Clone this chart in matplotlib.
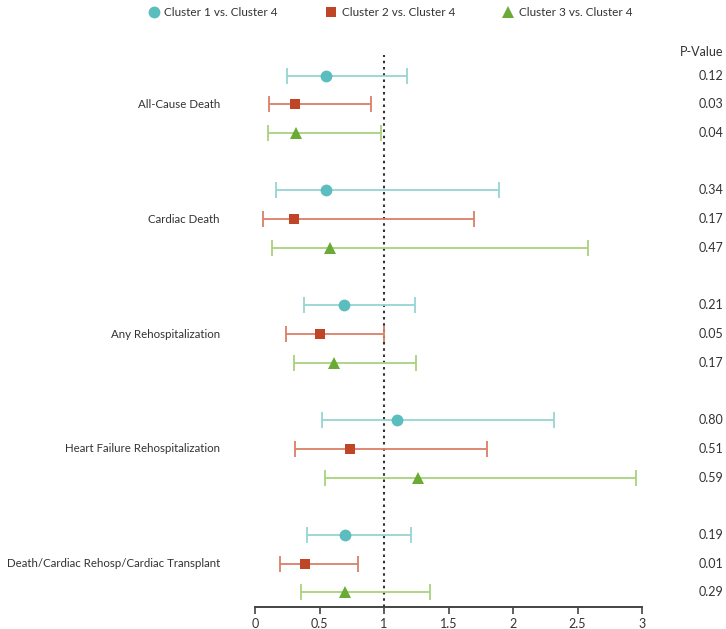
import matplotlib
matplotlib.use("Agg")
import matplotlib.pyplot as plt
from matplotlib.lines import Line2D
from matplotlib.transforms import blended_transform_factory

plt.rcParams['font.family'] = ['Lato', 'DejaVu Sans']

outcomes = ["All-Cause Death", "Cardiac Death", "Any Rehospitalization",
            "Heart Failure Rehospitalization", "Death/Cardiac Rehosp/Cardiac Transplant"]
series = ["Cluster 1 vs. Cluster 4", "Cluster 2 vs. Cluster 4", "Cluster 3 vs. Cluster 4"]

# hazard ratios and CI per series (one value per outcome)
c1_hr = [0.55, 0.55, 0.69, 1.10, 0.70]
c1_lo = [0.25, 0.16, 0.38, 0.52, 0.40]
c1_hi = [1.18, 1.89, 1.24, 2.32, 1.21]

c2_hr = [0.31, 0.30, 0.50, 0.74, 0.39]
c2_lo = [0.11, 0.06, 0.24, 0.31, 0.19]
c2_hi = [0.90, 1.70, 1.00, 1.80, 0.80]

c3_hr = [0.32, 0.58, 0.61, 1.26, 0.70]
c3_lo = [0.10, 0.13, 0.30, 0.54, 0.36]
c3_hi = [0.98, 2.58, 1.25, 2.95, 1.36]

p_c1 = ["0.12", "0.34", "0.21", "0.80", "0.19"]
p_c2 = ["0.03", "0.17", "0.05", "0.51", "0.01"]
p_c3 = ["0.04", "0.47", "0.17", "0.59", "0.29"]

xticks = [0, 0.5, 1, 1.5, 2, 2.5, 3]
xticklabels = ["0", "0.5", "1", "1.5", "2", "2.5", "3"]

marker_colors = ["#5bbdbd", "#bf4526", "#6aab35"]
line_colors = ["#96d3d3", "#d98068", "#a9d27e"]
markers = ["o", "s", "^"]
msizes = [8.5, 7.5, 9]

fig = plt.figure(figsize=(7.26, 6.29), dpi=100)
ax = fig.add_axes([255/726, 22/629, 387/726, 552/629])

data = [(c1_hr, c1_lo, c1_hi, p_c1), (c2_hr, c2_lo, c2_hi, p_c2), (c3_hr, c3_lo, c3_hi, p_c3)]
trans_fig_x = blended_transform_factory(fig.transFigure, ax.transData)

for j, (hr, lo, hi, pv) in enumerate(data):
    ys = [-(g * 4 + j) for g in range(len(outcomes))]
    xerr = [[h - l for h, l in zip(hr, lo)], [u - h for h, u in zip(hr, hi)]]
    ax.errorbar(hr, ys, xerr=xerr, fmt='none', ecolor=line_colors[j],
                elinewidth=1.3, capsize=5.5, capthick=1.3, zorder=2)
    ax.plot(hr, ys, linestyle='none', marker=markers[j], color=marker_colors[j],
            markersize=msizes[j], markeredgewidth=0, zorder=3)
    for y, p in zip(ys, pv):
        ax.text(699/726, y, p, transform=trans_fig_x, ha='left', va='center',
                fontsize=9, color='#333333')

for g, name in enumerate(outcomes):
    ax.text(220/726, -(g * 4 + 1), name, transform=trans_fig_x, ha='right',
            va='center', fontsize=8.3, color='#333333')

ax.axvline(1, color='#333333', linestyle=(0, (1.2, 1.8)), linewidth=1.5, zorder=1)

ax.set_xlim(0, 3)
ax.set_ylim(-18.51, 0.72)
ax.set_xticks(xticks)
ax.set_xticklabels(xticklabels)
ax.set_yticks([])
for s in ['left', 'right', 'top']:
    ax.spines[s].set_visible(False)
ax.spines['bottom'].set_color('#444444')
ax.spines['bottom'].set_linewidth(1.4)
ax.tick_params(axis='x', direction='out', length=5, width=1.2, color='#444444',
               labelsize=9, labelcolor='#333333', pad=3)

fig.text(723/726, 1 - 52/629, "P-Value", ha='right', va='center', fontsize=9, color='#333333')

handles = [Line2D([], [], linestyle='none', marker=markers[i], color=marker_colors[i],
                  markersize=msizes[i], markeredgewidth=0) for i in range(3)]
fig.legend(handles, series, loc='center', bbox_to_anchor=(390/726, 1 - 13/629), ncol=3,
           frameon=False, fontsize=8.5, handletextpad=0.4, columnspacing=4.0,
           labelcolor='#333333', handlelength=1.0)

fig.savefig("out.png", dpi=100, facecolor='white')
